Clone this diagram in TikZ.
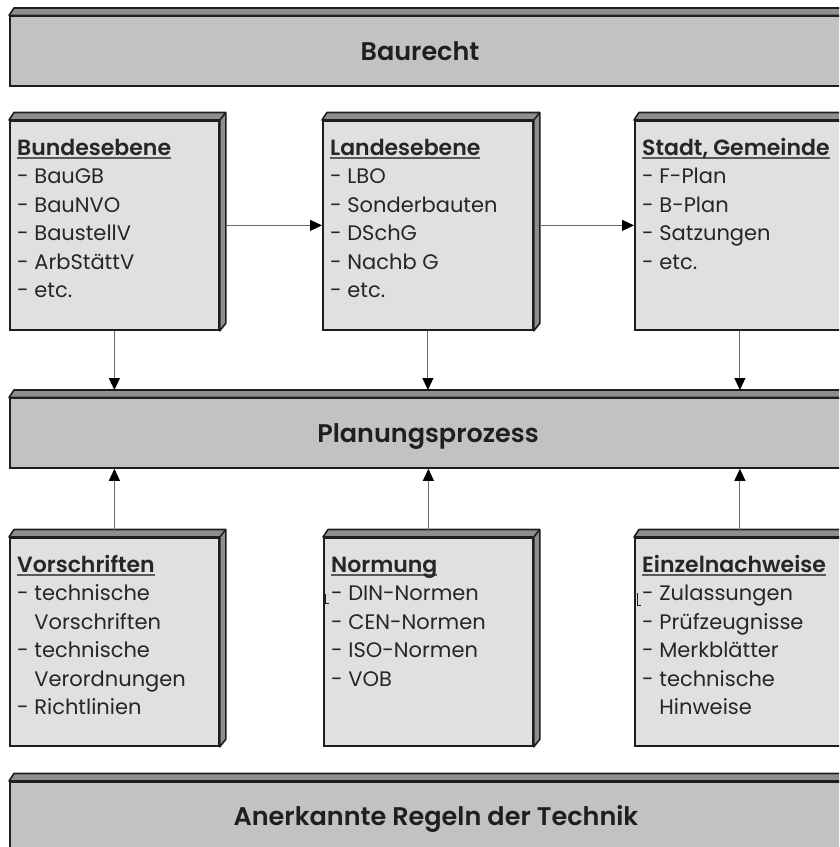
\documentclass[tikz,border=0pt]{standalone}
\usepackage{fontspec}
\setmainfont{Poppins}[BoldFont={Poppins SemiBold}]
\usetikzlibrary{arrows.meta,calc}

\definecolor{barfill}{HTML}{C2C2C2}
\definecolor{boxfill}{HTML}{E0E0E0}
\definecolor{bevelfill}{HTML}{8E8E8E}
\definecolor{edge}{HTML}{1E1E1E}
\definecolor{wire}{HTML}{6A6A6A}
\definecolor{ulgray}{HTML}{5A5A5A}

% bold heading with a grey underline
\newcommand\headline[1]{\setbox0\hbox{\fontsize{22}{28.5}\selectfont\bfseries #1}\rlap{\color{ulgray}\rule[-3.5pt]{\wd0}{1.6pt}}\box0}

\tikzset{
  face/.style={draw=edge, line width=1.8pt, inner sep=0pt, anchor=north west},
  barface/.style={face, fill=barfill},
  boxface/.style={face, fill=boxfill},
  bevel/.style={draw=edge, line width=1.6pt, fill=bevelfill, line join=round},
  bartitle/.style={anchor=base, inner sep=0pt, font=\fontsize{25.5}{28}\selectfont\bfseries, text=black!88},
  listtext/.style={anchor=base west, inner sep=0pt, font=\fontsize{21}{28.5}\selectfont, text=black!85},
  link/.style={draw=wire, line width=1pt, -{Triangle[length=12pt,width=11pt,color=black]}},
  tick/.style={draw=edge, line width=0.7pt}
}

% raised slab: front face node #1 with style #2 at (#3,#4), size #5 x #6,
% plus the bevelled top and right side
\newcommand\slab[6]{%
  \node[#2, minimum width=#5, minimum height=#6] (#1) at (#3,#4) {};
  \filldraw[bevel] (#1.north west) -- ++(5,-7.5) -- ($(#1.north east)+(6,-7.5)$)
     -- ($(#1.south east)+(6,-7.5)$) -- (#1.south east) -- (#1.north east) -- cycle;
  \draw[bevel, fill=none] (#1.north east) -- ++(6,-7.5);
  \coordinate (#1-top) at ($(#1.north)+(0,-7.5)$);
  \coordinate (#1-side) at ($(#1.east)+(6,0)$);
}

\begin{document}
\begin{tikzpicture}[x=1pt, y=-1pt]
  \useasboundingbox (0,0) rectangle (839,847);
  \clip (0,0) rectangle (839,847);

  % horizontal bars
  \slab{recht}{barface}{9}{15.5}{860}{69.5}
  \slab{plan}{barface}{9}{397.5}{860}{69.5}
  \slab{regeln}{barface}{9}{781}{860}{69.5}

  % upper boxes
  \slab{bund}{boxface}{9}{120}{209}{209}
  \slab{land}{boxface}{322}{120}{210}{209}
  \slab{stadt}{boxface}{634}{120}{210}{209}

  % lower boxes
  \slab{vor}{boxface}{9}{537}{209}{208}
  \slab{norm}{boxface}{323}{537}{209}{208}
  \slab{einz}{boxface}{634}{537}{210}{208}

  % bar titles
  \node[bartitle] (recht-t)  at ($(recht.west)+(411,9)$)  {Baurecht};
  \node[bartitle] (plan-t)   at ($(plan.west)+(419,9)$)   {Planungsprozess};
  \node[bartitle] (regeln-t) at ($(regeln.west)+(427,9)$) {Anerkannte Regeln der Technik};

  % box contents
  \node[listtext] (bund-t) at ($(bund.north west)+(8,35)$) {\begin{tabular}[t]{@{}l@{}}
    \headline{Bundesebene}\\- BauGB\\- BauNVO\\- BaustellV\\- ArbStättV\\- etc.\end{tabular}};
  \node[listtext] (land-t) at ($(land.north west)+(8,35)$) {\begin{tabular}[t]{@{}l@{}}
    \headline{Landesebene}\\- LBO\\- Sonderbauten\\- DSchG\\- Nachb G\\- etc.\end{tabular}};
  \node[listtext] (stadt-t) at ($(stadt.north west)+(8,35)$) {\begin{tabular}[t]{@{}l@{}}
    \headline{Stadt, Gemeinde}\\- F-Plan\\- B-Plan\\- Satzungen\\- etc.\end{tabular}};
  \node[listtext] (vor-t) at ($(vor.north west)+(8,35)$) {\begin{tabular}[t]{@{}l@{}}
    \headline{Vorschriften}\\- technische\\\hphantom{- }Vorschriften\\- technische\\\hphantom{- }Verordnungen\\- Richtlinien\end{tabular}};
  \node[listtext] (norm-t) at ($(norm.north west)+(8,35)$) {\begin{tabular}[t]{@{}l@{}}
    \headline{Normung}\\- DIN-Normen\\- CEN-Normen\\- ISO-Normen\\- VOB\end{tabular}};
  \node[listtext] (einz-t) at ($(einz.north west)+(8,35)$) {\begin{tabular}[t]{@{}l@{}}
    \headline{Einzelnachweise}\\- Zulassungen\\- Prüfzeugnisse\\- Merkblätter\\- technische\\\hphantom{- }Hinweise\end{tabular}};

  % small corner marks beside the first list entries
  \draw[tick] ($(norm.north west)+(2,57)$) -- ++(0,9) -- ++(4,0);
  \draw[tick] ($(einz.north west)+(3,56)$) -- ++(0,12) -- ++(4,0);

  % flow between the levels
  \draw[link] (bund-side) -- (bund-side -| land.west);
  \draw[link] (land-side) -- (land-side -| stadt.west);
  \draw[link] (bund.south) -- (bund.south |- plan-top);
  \draw[link] (land.south) -- (land.south |- plan-top);
  \draw[link] (stadt.south) -- (stadt.south |- plan-top);
  \draw[link] (vor-top) -- (vor-top |- plan.south);
  \draw[link] (norm-top) -- (norm-top |- plan.south);
  \draw[link] (einz-top) -- (einz-top |- plan.south);
\end{tikzpicture}
\end{document}
